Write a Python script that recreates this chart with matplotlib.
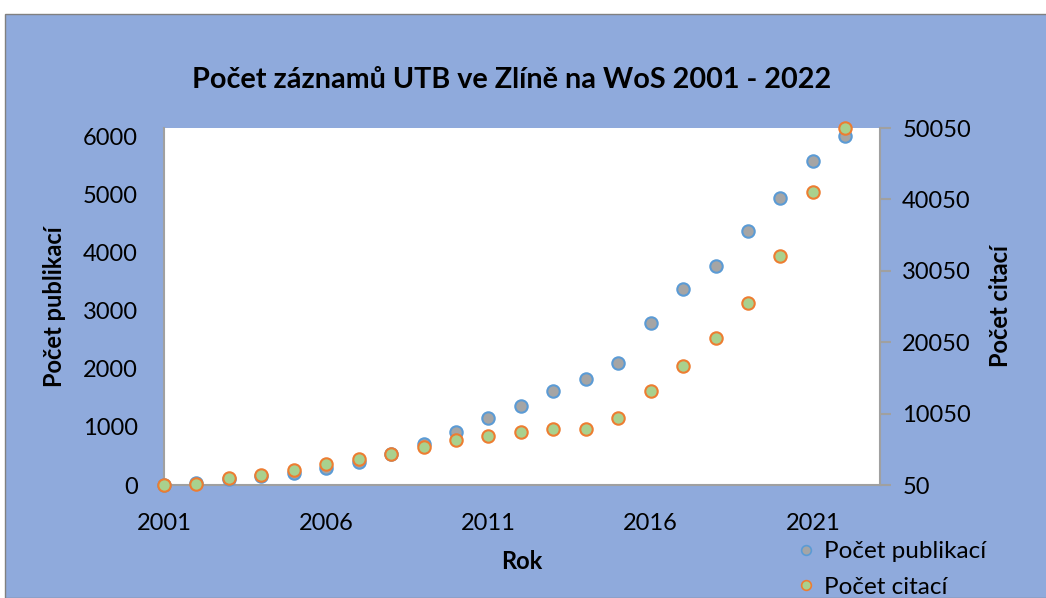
import matplotlib.pyplot as plt
from matplotlib.patches import Rectangle
from matplotlib.lines import Line2D

roky = list(range(2001, 2023))
publikace = [0, 30, 100, 155, 200, 290, 400, 540, 700, 910, 1150, 1360,
             1615, 1830, 2100, 2790, 3375, 3765, 4375, 4930, 5575, 6005]
citace = [50, 250, 1050, 1500, 2150, 3050, 3700, 4450, 5350, 6330, 6970, 7540,
          7870, 7950, 9420, 13210, 16760, 20650, 25610, 32120, 41100, 50000]
prave_ticky = [50, 10050, 20050, 30050, 40050, 50050]

modra = '#8FAADC'
plt.rcParams['font.family'] = ['Lato', 'DejaVu Sans']

fig = plt.figure(figsize=(10.46, 5.98), dpi=100)
fig.patch.set_facecolor('white')
fig.patches.append(Rectangle((5 / 1046, 0), 1.0, 1 - 14 / 598, transform=fig.transFigure,
                             facecolor=modra, edgecolor='#808080', linewidth=1, zorder=-5))

ax = fig.add_axes([164 / 1046, 1 - 485 / 598, (880 - 164) / 1046, (485 - 128) / 598])
ax.set_facecolor('white')
ax2 = ax.twinx()

ax.scatter(roky, publikace, s=80, facecolor='#A5A5A5', edgecolor='#5B9BD5',
           linewidth=1.5, zorder=3, clip_on=False)
ax2.scatter(roky, citace, s=80, facecolor='#A9D18E', edgecolor='#ED7D31',
            linewidth=1.5, zorder=3, clip_on=False)

ax.set_xlim(2001, 2023.07)
ax.set_ylim(0, 6140)
ax2.set_ylim(50, 50050)
ax.set_xticks([2001, 2006, 2011, 2016, 2021])
ax.set_yticks(range(0, 7000, 1000))
ax2.set_yticks(prave_ticky)

for a in (ax, ax2):
    for s in a.spines.values():
        s.set_visible(False)
    a.tick_params(labelsize=17, colors='black')
ax.spines['left'].set_visible(True)
ax.spines['bottom'].set_visible(True)
ax2.spines['right'].set_visible(True)
for s in (ax.spines['left'], ax.spines['bottom'], ax2.spines['right']):
    s.set_color('#A0A0A0')
    s.set_linewidth(1.5)
ax.tick_params(axis='y', length=0, pad=19)
ax.tick_params(axis='x', length=0, pad=20)
ax2.tick_params(axis='y', length=8, width=1.5, color='#A0A0A0', pad=8)

ax.set_xlabel('Rok', fontsize=17, fontweight='bold', labelpad=12)
ax.set_ylabel('Počet publikací', fontsize=17, fontweight='bold', labelpad=12)
ax2.set_ylabel('Počet citací', fontsize=17, fontweight='bold', labelpad=13)
fig.text(512 / 1046, 1 - 80 / 598, 'Počet záznamů UTB ve Zlíně na WoS 2001 - 2022',
         ha='center', va='center', fontsize=20.7, fontweight='bold')

handles = [
    Line2D([], [], linestyle='none', marker='o', markersize=7, markerfacecolor='#A5A5A5',
           markeredgecolor='#5B9BD5', markeredgewidth=1.2, label='Počet publikací'),
    Line2D([], [], linestyle='none', marker='o', markersize=7, markerfacecolor='#A9D18E',
           markeredgecolor='#ED7D31', markeredgewidth=1.2, label='Počet citací'),
]
fig.legend(handles=handles, loc='upper left', bbox_to_anchor=(788 / 1046, 1 - 541 / 598),
           frameon=False, fontsize=17.5, handletextpad=0.0, labelspacing=0.6,
           borderaxespad=0, borderpad=0, handlelength=1.5)

fig.savefig('out.png', dpi=100)
